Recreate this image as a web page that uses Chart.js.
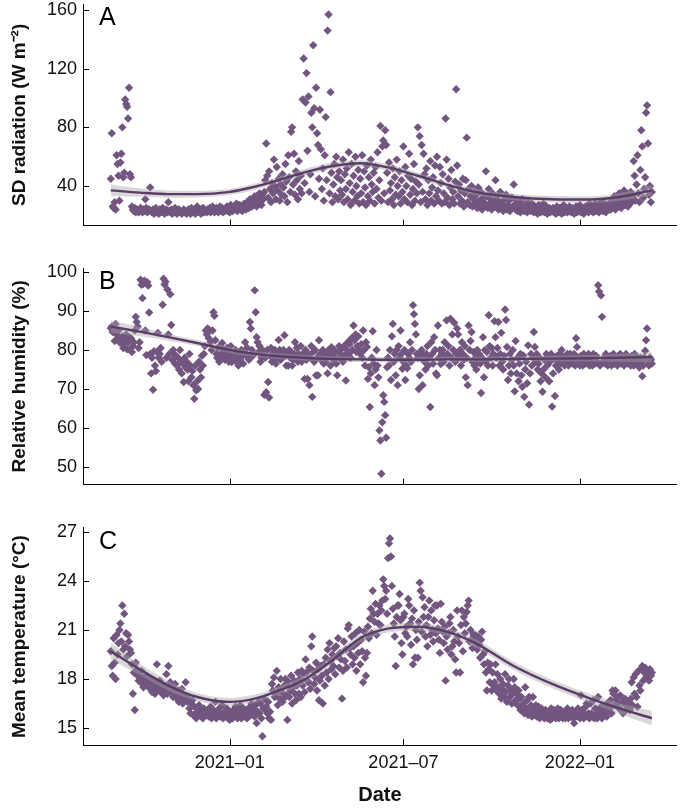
<!DOCTYPE html>
<html>
<head>
<meta charset="utf-8">
<script src="https://cdn.jsdelivr.net/npm/chart.js@4.4.1/dist/chart.umd.min.js"></script>
<style>
  body { margin: 0; background: #fff; }
  .panel { position: absolute; left: 0; width: 681px; }
</style>
</head>
<body>
<div class="panel" style="top:0;height:240px"><canvas id="chartA" width="681" height="240"></canvas></div>
<div class="panel" style="top:240px;height:250px"><canvas id="chartB" width="681" height="250"></canvas></div>
<div class="panel" style="top:490px;height:318px"><canvas id="chartC" width="681" height="318"></canvas></div>
<script>
// daily records, day 0 = 2020-08-30
const startDate = '2020-08-30';
const tickDates = ['2021-01-01', '2021-07-01', '2022-01-01'];
const tickLabels = ['2021–01', '2021–07', '2022–01'];

// SD radiation (W m-2)
const radiation = [
  45,76,26,25,29,24,61,55,47,30,56,62,80,46,49,99,96,94,86,107,
  48,46,26,24,23,25,22,24,23,22,24,25,23,22,24,23,31,25,22,23,
  24,39,23,22,24,21,23,25,22,23,21,24,22,23,25,22,21,23,24,22,
  29,23,22,24,21,23,22,25,23,21,22,24,23,22,21,23,24,22,23,21,
  22,24,23,21,25,22,23,24,21,22,26,23,22,24,21,23,25,22,24,23,
  22,24,23,25,22,24,26,23,22,24,25,23,22,24,26,23,25,22,24,23,
  24,26,23,25,22,27,24,23,26,25,24,28,23,25,27,24,26,23,25,28,
  26,24,29,27,25,31,28,26,30,27,33,29,26,32,28,35,30,27,34,31,
  36,44,69,47,32,50,38,29,42,35,58,40,31,53,37,45,30,41,34,48,
  39,33,55,43,29,61,46,36,77,80,41,62,34,50,44,31,57,38,47,35,
  99,127,42,97,117,64,101,36,48,90,80,136,93,33,107,76,68,45,92,65,
  38,52,30,61,87,44,146,157,35,104,49,29,41,55,33,60,46,31,50,37,
  44,34,58,29,48,38,52,31,63,42,27,55,36,47,30,60,40,33,51,28,
  45,35,61,29,50,39,27,54,33,46,30,58,41,36,49,28,53,38,63,32,
  44,81,30,67,71,35,78,68,49,29,56,37,42,31,52,27,46,34,58,40,
  33,50,28,44,36,67,31,53,40,29,47,62,34,45,27,38,55,30,43,35,
  80,41,74,29,68,36,62,48,31,52,27,44,35,57,30,39,46,28,54,33,
  60,37,30,53,42,28,48,35,29,86,58,32,45,27,39,51,31,36,28,43,
  106,54,33,41,28,37,30,45,26,35,44,73,29,38,27,33,40,26,31,36,
  28,34,25,39,30,27,36,24,32,29,26,50,33,25,38,28,31,24,35,27,
  30,44,26,33,24,29,36,25,28,23,31,26,34,24,27,30,23,25,32,26,
  41,27,24,30,23,26,28,22,25,31,24,23,27,25,22,29,24,26,23,28,
  24,22,26,23,25,21,27,24,22,25,23,28,22,24,26,21,23,25,22,24,
  23,25,22,24,21,26,23,22,25,24,21,23,27,22,24,25,22,23,26,24,
  22,25,23,21,24,26,22,23,25,27,22,24,23,21,25,26,23,24,22,28,
  24,23,26,22,25,28,23,24,27,22,25,29,24,23,26,28,22,25,27,24,
  26,24,30,25,28,33,24,27,31,26,35,28,25,32,29,37,27,30,34,26,
  31,28,36,29,33,57,47,30,41,61,35,29,51,78,67,32,38,46,90,95,
  69,34,40,29,36
];

// relative humidity (%)
const humidity = [
  85.6,86,84.6,85.5,82.3,86.7,84,83,85,82,82.8,81.8,83.5,80.5,81.6,82.5,84,80.2,82,83.3,
  80,83,79.5,81,82,85,88.5,87.2,86,80.5,82,98,96.7,93.3,97,97.8,85,78.7,97.4,96.5,
  89.6,79,74,78,69.8,79.7,76,74.6,79.5,84.4,78,79,80.5,77,91.6,98.3,96.8,97.5,78,95.5,
  84,79,94.3,86.4,77.5,80,79,76.5,78.5,76,78,75,80,77,74,76.5,71.8,78,75.5,77,
  75,72,79,76,73,74.6,71,67.5,76,69.7,72,70,77,75,73,78.5,76,79,81,85,
  84,85.5,83,85,82,80,85,89.7,88.8,82.5,79,78,80.6,77,81,79,81.8,78,80,77.5,
  79,80.5,78,77,79,81,76.9,78.5,77.5,79,80,77,78,76,79.5,77.5,80,78.5,76.5,79,
  82,79,80.6,78,77.5,87.2,85.5,80,78.5,79,95.3,89.7,83.3,82,79.5,81,77,78,80,79,
  68.5,78,69.2,80,71.8,67.8,78.5,80.5,77,79,78,80,76.5,79,78,82.6,80,77.5,79.5,78,
  80,83.8,78.5,76,79,76,80,78,79.5,76,77.5,79,82,78,80.5,77,79,78.5,81,77,
  79,78,72.6,80,77.5,72.6,79,71,78,81,68,79.5,77,80,73.5,78,73.5,82.5,79,77.5,
  78.5,80,76.5,79,77,78,74,80,78.5,76,80.7,79,77.5,80,78,76.5,73.5,79.5,81,78,
  79,80.4,77,81,78.5,72.2,80,82,79,81.5,78,83,80,86.3,82.5,84,79.5,81,83.5,80,
  79,81.5,78,85,80,76,82,80.8,72.6,75.6,65.4,74,78,84.8,76.5,71,75,80,76,73,
  59.4,56.8,48.3,61.5,68.4,66.7,63.3,57.5,75.6,78,76,80,72.3,83.5,86.7,77,79,73.5,80,71,
  81,78,85,79,75.2,77,80,72.3,76,75.3,79,78,82,77,80,91.5,89.2,86.7,84,79,
  78,70,73.5,79.4,80,71,78.6,77,75,79,81,76,78,65.4,82,79,76.5,83.3,80,74,
  73.5,86.3,78,80,76.4,79,80,77,82,78.5,87.6,79,81,76,88,78,84,80,87,77,
  79,85.5,84,78,80,76,82,79,77.5,81,73,78,71,86.3,80,82.3,84.6,77,79.5,76,
  78,75,80,77,79,76.5,69,78,83.3,73,80,77,79.5,76,88.9,81,78,80.5,76,79,
  87.4,83.3,78,80.5,87.2,76,79,84.4,77,75,78.5,90.4,87.7,80.8,72.3,76,79,74,77.5,80,
  76,69.4,82.3,74,78,72,76.5,79,73.5,70.6,78.6,68,75,77,71.5,81.2,66,74,79,76,
  78,84.6,80.8,77,79,75,76.5,78,72,74,69.3,75,77.5,73,79,76,78,72,77,79,
  65.5,74,78,68.2,76,78.5,77,75,79,76.5,80,77,78,76,78.5,77,79,76,77.5,79,
  78,76.5,77.5,79,76,83,80.8,78,77,76,78.5,77,76,79,77.5,76.5,78,77,79,76,
  77.5,78,76,79,77,76.5,78.5,77,96.6,95,76,94,88.5,77,78,76.5,79,77,76,78,
  77,78.5,76,77.5,79,76.5,78,77,76,78.5,77,79,76.5,78,77.5,76,78,79,77,76.5,
  78,77,76,78.5,77.5,76,79,77,76.5,78,77,75.5,78,77,73.3,76,78,79.8,82.5,85.5,
  77,76,78,77.5,76.5
];

// mean temperature (°C)
const temperature = [
  19.7,18.8,18.2,20.5,19.0,18.0,20.7,19.5,20.2,21.0,21.4,20.3,22.5,19.8,22.0,20.0,20.8,19.4,20.7,20.3,
  19.8,19.6,18.9,17.1,18.4,16.1,19.0,18.6,18.2,17.9,18.3,17.8,18.5,18.1,17.5,18.0,17.7,18.2,17.6,17.8,
  17.7,17.4,18.0,17.2,17.8,17.5,17.1,17.7,18.9,17.3,17.6,17.9,17.2,17.5,17.3,17.0,17.6,17.4,18.3,17.1,
  18.8,17.5,17.8,17.2,17.5,16.9,17.4,17.7,17.0,16.8,17.3,16.6,17.1,16.9,17.4,16.5,17.0,16.8,17.8,16.9,
  16.6,16.8,16.2,15.9,16.5,16.7,15.8,16.3,15.7,15.6,16.0,15.8,16.4,16.1,15.7,15.9,15.6,16.2,15.8,16.0,
  15.8,16.1,15.7,15.9,16.3,15.6,15.9,16.1,15.7,16.6,15.6,16.0,15.8,16.2,15.7,15.9,16.4,15.6,15.8,16.0,
  15.7,16.2,15.6,15.9,15.5,16.0,15.8,15.6,16.1,15.9,16.3,15.7,15.6,16.1,15.8,16.4,15.6,15.9,16.2,15.7,
  16.1,15.8,15.6,16.0,15.7,16.3,15.9,16.5,15.8,16.2,15.7,16.4,15.3,16.0,16.6,15.9,16.5,15.6,14.5,16.2,
  16.8,16.2,16.3,15.9,16.6,15.6,16.0,15.5,17.7,17.3,18.1,16.9,17.1,18.5,16.4,17.5,16.8,18.0,17.2,16.6,
  16.8,17.6,18.0,17.0,15.5,17.8,16.9,17.3,18.2,16.5,17.5,17.9,17.1,16.7,17.6,18.4,17.1,18.0,16.9,18.5,
  17.6,18.3,17.2,19.2,18.4,17.9,17.8,18.7,17.4,20.0,20.6,18.5,17.7,18.1,19.0,17.3,18.6,16.7,17.9,18.8,
  18.2,16.5,18.9,17.6,19.3,18.4,19.8,18.0,20.2,19.1,18.6,19.5,18.8,19.9,18.3,20.0,19.4,20.5,18.7,19.6,
  19.2,16.8,18.5,20.3,19.1,19.8,18.7,21.1,21.3,19.9,19.5,20.6,18.9,20.0,19.3,20.8,18.5,20.2,19.6,21.0,
  18.9,20.4,19.7,17.8,20.9,19.3,18.2,19.6,21.2,20.5,21.7,22.3,20.8,23.4,22.0,21.5,22.6,20.7,22.0,21.4,
  22.5,21.3,22.2,22.8,24.1,23.7,22.9,23.4,22.0,25.4,26.3,26.6,25.5,23.7,22.3,21.4,20.6,18.8,21.8,22.5,
  22.5,23.2,21.6,20.2,19.5,21.8,22.0,20.8,21.2,20.6,22.9,22.5,21.4,20.1,21.7,18.9,22.2,19.3,21.0,20.4,
  19.3,21.5,23.9,23.4,20.9,23.0,21.8,22.4,20.6,21.3,20.0,21.8,22.8,20.7,22.2,21.0,20.3,21.6,22.5,20.8,
  22.5,21.1,20.4,19.6,22.6,21.5,20.9,20.2,21.2,17.9,20.6,19.8,20.8,21.4,21.8,19.5,20.0,21.0,20.3,19.2,
  18.4,22.2,20.6,20.2,18.4,21.3,22.2,19.7,21.8,20.8,21.4,22.1,22.5,22.8,20.3,21.0,20.4,19.9,20.7,20.5,
  20.7,20.2,19.8,20.6,20.1,19.3,20.4,20.9,19.5,18.9,19.7,18.4,17.3,19.0,18.6,17.8,18.9,17.3,18.4,17.6,
  17.8,18.9,17.3,18.3,17.5,17.1,18.0,16.8,17.4,17.7,16.9,18.3,17.2,16.6,17.6,18.0,16.9,17.3,16.5,17.1,
  18.0,17.5,16.7,17.1,16.4,17.3,16.8,16.1,16.9,16.3,16.5,15.9,17.5,16.2,16.7,15.8,16.9,16.0,16.4,15.7,
  16.9,16.1,15.8,16.4,15.7,16.0,16.3,15.6,15.9,16.2,15.7,15.9,15.6,16.1,15.8,15.6,16.0,15.9,15.5,16.2,
  15.6,15.9,16.1,15.7,15.6,15.9,16.2,15.6,15.8,16.1,15.7,15.6,15.9,16.0,15.6,15.8,16.2,15.6,15.9,15.7,
  15.8,16.1,15.6,15.3,15.9,15.7,15.9,16.2,15.8,15.6,17.0,16.1,15.7,15.6,15.9,16.3,16.5,15.7,15.9,15.6,
  16.5,15.9,15.7,16.7,15.6,16.2,15.8,15.6,16.9,16.0,15.7,16.3,15.6,15.9,16.1,15.8,16.4,15.7,16.1,16.6,
  16.2,16.7,15.9,17.3,17.1,16.4,17.3,16.8,16.5,16.9,16.2,17.0,16.1,16.6,15.9,16.5,16.8,16.1,16.4,16.6,
  16.5,16.1,16.8,17.8,16.4,18.1,17.1,18.3,16.9,16.3,18.5,17.6,17.3,18.6,18.8,17.9,18.4,18.7,18.1,18.5,
  18.3,17.9,18.6,18.2,18.4
];

// smoothed fits with confidence band, at these days
const fitDays = [0, 30, 60, 90, 124, 150, 175, 200, 230, 260, 290, 320, 350, 380, 420, 460, 500, 530, 564];
const fitRad   = [37, 35.5, 34.5, 34.5, 36, 39.5, 44, 49, 53.5, 55.5, 52.5, 47, 41, 36, 32.5, 31, 30.8, 32.5, 37];
const fitRadLo = [33, 32.6, 32, 32.2, 33.8, 37.3, 41.8, 46.8, 51.2, 53.2, 50.2, 44.7, 38.8, 33.8, 30.3, 28.8, 28.5, 29.9, 33.5];
const fitRadHi = [41, 38.4, 37, 36.8, 38.2, 41.7, 46.2, 51.2, 55.8, 57.8, 54.8, 49.3, 43.2, 38.2, 34.7, 33.2, 33.1, 35.1, 40.5];
const fitHum   = [86, 84.7, 83.3, 81.8, 80, 79, 78.4, 78, 77.7, 77.6, 77.5, 77.5, 77.6, 77.6, 77.7, 77.8, 77.9, 78, 78.2];
const fitHumLo = [84.4, 83.5, 82.4, 81, 79.2, 78.3, 77.7, 77.3, 77, 76.9, 76.8, 76.8, 76.9, 76.9, 77, 77.1, 77.1, 77, 76.8];
const fitHumHi = [87.6, 85.9, 84.2, 82.6, 80.8, 79.7, 79.1, 78.7, 78.4, 78.3, 78.2, 78.2, 78.3, 78.3, 78.4, 78.5, 78.7, 79, 79.6];
const fitTmp   = [19.7, 18.6, 17.6, 16.9, 16.6, 16.8, 17.3, 17.9, 19.1, 20.5, 21.1, 21.2, 20.9, 20.2, 18.8, 17.7, 16.8, 16.2, 15.6];
const fitTmpLo = [19.2, 18.25, 17.3, 16.65, 16.35, 16.55, 17.05, 17.65, 18.85, 20.25, 20.85, 20.95, 20.65, 19.95, 18.55, 17.45, 16.52, 15.88, 15.15];
const fitTmpHi = [20.2, 18.95, 17.9, 17.15, 16.85, 17.05, 17.55, 18.15, 19.35, 20.75, 21.35, 21.45, 21.15, 20.45, 19.05, 17.95, 17.08, 16.52, 16.05];

const yTicksRad = [40, 80, 120, 160];
const yTicksHum = [50, 60, 70, 80, 90, 100];
const yTicksTmp = [15, 18, 21, 24, 27];

const pointColor = '#72567f';
const lineColor = '#5b3c68';
const bandColor = 'rgba(165,165,165,0.42)';
const fontFamily = '"Liberation Sans", Arial, Helvetica, sans-serif';

function dayIndex(s) {
  const [y, m, d] = s.split('-').map(Number);
  const [y0, m0, d0] = startDate.split('-').map(Number);
  return Math.round((Date.UTC(y, m - 1, d) - Date.UTC(y0, m0 - 1, d0)) / 86400000);
}
const tickDays = tickDates.map(dayIndex);

const panelDecor = {
  id: 'panelDecor',
  afterDraw(chart, args, opts) {
    const { ctx, chartArea, scales } = chart;
    ctx.save();
    ctx.strokeStyle = '#000';
    ctx.lineWidth = 1;
    scales.y.ticks.forEach(t => {
      const py = Math.round(scales.y.getPixelForValue(t.value)) + 0.5;
      ctx.beginPath();
      ctx.moveTo(chartArea.left, py);
      ctx.lineTo(chartArea.left + 6, py);
      ctx.stroke();
    });
    scales.x.ticks.forEach(t => {
      const px = Math.round(scales.x.getPixelForValue(t.value)) + 0.5;
      ctx.beginPath();
      ctx.moveTo(px, chartArea.bottom);
      ctx.lineTo(px, chartArea.bottom - 6);
      ctx.stroke();
    });
    ctx.fillStyle = '#000';
    ctx.font = '25px ' + fontFamily;
    ctx.textBaseline = 'alphabetic';
    ctx.fillText(opts.letter, chartArea.left + 16, chartArea.top + 21);
    ctx.restore();
  }
};

function makePanel(id, letter, values, fit, lo, hi, yMin, yMax, yTicks, yTitle, showX, padTop, padBottom, xHeight) {
  const pts = values.map((v, i) => ({ x: i, y: v }));
  const toXY = arr => arr.map((v, i) => ({ x: fitDays[i], y: v }));
  return new Chart(document.getElementById(id), {
    type: 'scatter',
    data: {
      datasets: [
        { data: pts, pointStyle: 'rectRot', pointRadius: 4.2, borderWidth: 0,
          backgroundColor: pointColor, borderColor: pointColor, order: 3 },
        { data: toXY(lo), showLine: true, pointRadius: 0, borderWidth: 0,
          borderColor: 'rgba(0,0,0,0)', fill: false, cubicInterpolationMode: 'monotone', order: 2 },
        { data: toXY(hi), showLine: true, pointRadius: 0, borderWidth: 0,
          borderColor: 'rgba(0,0,0,0)', backgroundColor: bandColor, fill: 1, cubicInterpolationMode: 'monotone', order: 2 },
        { data: toXY(fit), showLine: true, pointRadius: 0, borderWidth: 2.4,
          borderColor: lineColor, fill: false, cubicInterpolationMode: 'monotone', order: 1 }
      ]
    },
    options: {
      responsive: false,
      animation: false,
      devicePixelRatio: 1,
      events: [],
      layout: { padding: { top: padTop, bottom: padBottom, left: 0, right: 0 } },
      plugins: { legend: { display: false }, tooltip: { enabled: false }, panelDecor: { letter } },
      scales: {
        x: {
          type: 'linear', min: -29, max: 590,
          grid: { display: false, drawTicks: false },
          border: { display: true, color: '#000', width: 1 },
          ticks: {
            display: showX, padding: 7, color: '#111', maxRotation: 0, autoSkip: false,
            font: { family: fontFamily, size: 18 },
            callback: v => tickLabels[tickDays.indexOf(v)] ?? ''
          },
          afterBuildTicks: s => { s.ticks = tickDays.map(v => ({ value: v })); },
          title: { display: showX, text: 'Date', color: '#111',
                   font: { family: fontFamily, size: 20, weight: 'bold' }, padding: { top: 0, bottom: 1 } },
          afterFit: s => { s.height = xHeight; s.paddingLeft = 0; s.paddingRight = 0; }
        },
        y: {
          min: yMin, max: yMax,
          grid: { display: false, drawTicks: false },
          border: { display: true, color: '#000', width: 1 },
          ticks: { padding: 6, color: '#111', font: { family: fontFamily, size: 18 } },
          afterBuildTicks: s => { s.ticks = yTicks.map(v => ({ value: v })); },
          title: { display: true, text: yTitle, color: '#111',
                   font: { family: fontFamily, size: 19, weight: 'bold' }, padding: { top: 8, bottom: 0 } },
          afterFit: s => { s.width = 83; s.paddingTop = 0; s.paddingBottom = 0; }
        }
      }
    },
    plugins: [panelDecor]
  });
}

makePanel('chartA', 'A', radiation, fitRad, fitRadLo, fitRadHi, 13, 164, yTicksRad,
  'SD radiation (W m⁻²)', false, 4, 14.4, 0);
makePanel('chartB', 'B', humidity, fitHum, fitHumLo, fitHumHi, 45.5, 101, yTicksHum,
  'Relative humidity (%)', false, 28.1, 5.4, 0);
makePanel('chartC', 'C', temperature, fitTmp, fitTmpLo, fitTmpHi, 13.95, 27.25, yTicksTmp,
  'Mean temperature (°C)', true, 37.9, 0, 62.8);
</script>
</body>
</html>
